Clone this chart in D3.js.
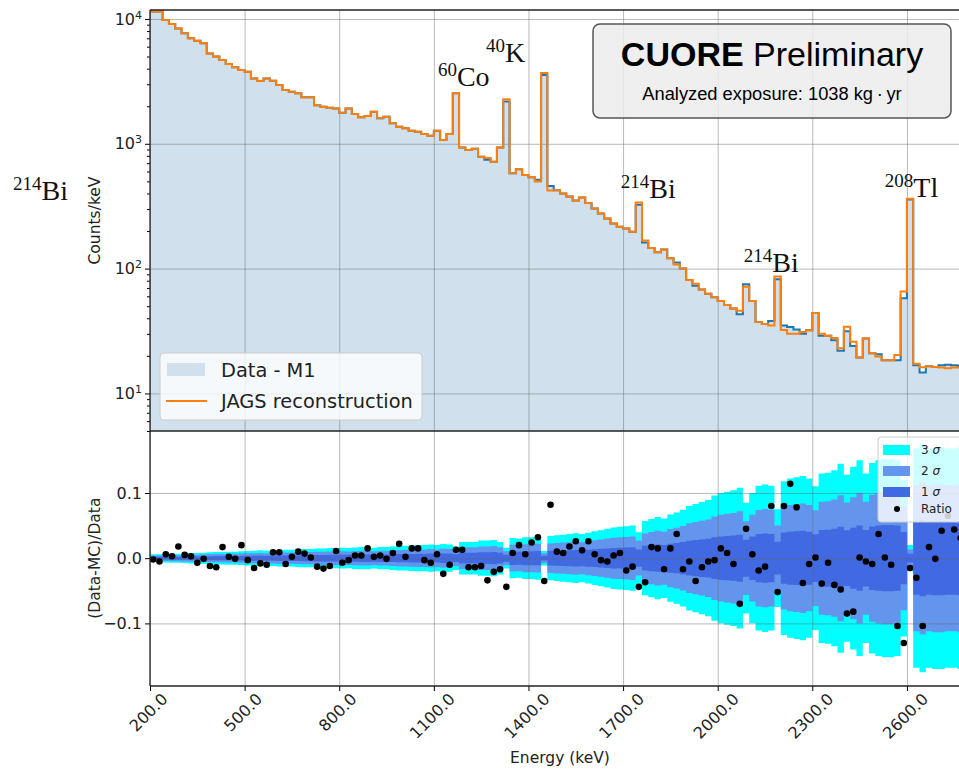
<!DOCTYPE html>
<html>
<head>
<meta charset="utf-8">
<script src="https://cdn.jsdelivr.net/npm/d3@7"></script>
<style>
  body { margin: 0; background: #fff; }
  text { font-family: "DejaVu Sans", sans-serif; }
</style>
</head>
<body>
<div id="chart"></div>
<script>
// 20 keV bins from 200 to 2800 keV
var binWidth = 20;
var binLow = d3.range(200, 2800, binWidth);

// Data - M1, counts/keV
var dataCounts = [
  11500, 11500, 9800, 9100, 8400, 7700, 7000, 6700, 6400, 5300,
  5000, 4700, 4350, 4100, 3900, 3780, 3340, 3180, 3340, 3200,
  2960, 2700, 2610, 2540, 2360, 2360, 2040, 1980, 1940, 1920,
  1770, 1920, 1730, 1630, 1670, 1810, 1600, 1650, 1460, 1370,
  1330, 1270, 1250, 1200, 1160, 1270, 1070, 1200, 2540, 935,
  890, 912, 787, 745, 718, 935, 2180, 580, 624, 561,
  540, 515, 3560, 460, 425, 400, 378, 352, 372, 335,
  303, 277, 252, 230, 216, 210, 197, 325, 162, 146,
  135, 142, 121, 112, 100, 81, 73, 68, 63, 59,
  55, 51, 48, 43, 75, 55, 37.4, 36, 38, 82,
  35, 34, 32.5, 30, 32, 44, 29, 29, 26.7, 22,
  31.5, 24, 19.4, 27.5, 21, 20.6, 18.4, 18.4, 18.4, 58,
  358, 16.8, 14.7, 16.5, 16.3, 16.8, 17, 16.8, 16.6, 16.5
];

// JAGS reconstruction, counts/keV
var mcCounts = [
  11500, 11500, 9800, 9100, 8400, 7700, 7000, 6700, 6400, 5300,
  5000, 4700, 4350, 4100, 3900, 3780, 3340, 3180, 3340, 3200,
  2960, 2700, 2610, 2540, 2360, 2360, 2040, 1980, 1940, 1920,
  1770, 1920, 1730, 1630, 1670, 1810, 1600, 1650, 1460, 1370,
  1330, 1270, 1250, 1200, 1160, 1270, 1070, 1200, 2540, 935,
  890, 912, 787, 770, 718, 935, 2276, 580, 624, 561,
  540, 498, 3685, 422, 425, 400, 378, 352, 372, 335,
  303, 277, 252, 230, 216, 210, 197, 339, 168, 146,
  135, 142, 121, 108, 100, 81, 75.5, 68, 63, 59,
  55, 51, 48, 46, 71.6, 55, 37.4, 36, 35, 86.3,
  32.2, 30.1, 30, 31.1, 32, 44, 30.1, 29, 27.8, 23,
  34.2, 26, 19.4, 27.5, 21, 19.8, 18.4, 18.4, 20.3, 65.5,
  363, 17.3, 16.2, 16.5, 16.3, 16.1, 15.9, 16.1, 16.1, 16.5
];

// (Data-MC)/Data per bin
var ratio = [
  -0.002, -0.005, 0.006, 0.003, 0.018, 0.005, 0.003, -0.007, -0.001, -0.012,
  -0.014, 0.017, 0.002, -0.001, 0.020, -0.003, -0.015, -0.008, -0.010, 0.009,
  0.009, -0.009, 0.002, 0.010, 0.007, 0.001, -0.013, -0.016, -0.012, 0.011,
  -0.007, -0.003, 0.004, 0.004, 0.015, 0.002, 0.004, -0.001, 0.008, 0.022,
  0.002, 0.015, 0.015, -0.003, -0.007, 0.006, -0.024, -0.010, 0.013, 0.013,
  -0.014, -0.014, -0.012, -0.034, -0.021, -0.017, -0.044, 0.008, 0.020, 0.006,
  0.024, 0.032, -0.035, 0.082, 0.010, 0.008, 0.018, 0.026, 0.012, 0.026,
  0.006, -0.003, -0.005, 0.004, 0.008, -0.019, -0.013, -0.044, -0.037, 0.017,
  0.015, -0.017, 0.015, 0.037, -0.017, -0.005, -0.035, -0.014, -0.005, -0.003,
  0.015, 0.008, -0.009, -0.070, 0.045, 0.006, -0.019, -0.013, 0.080, -0.052,
  0.080, 0.114, 0.078, -0.038, -0.009, 0.001, -0.039, -0.007, -0.041, -0.048,
  -0.085, -0.082, 0.001, -0.005, -0.009, 0.037, 0.001, -0.010, -0.104, -0.130,
  -0.015, -0.030, -0.104, 0.017, -0.001, 0.042, 0.065, 0.044, 0.031, 0.020
];

// 1 sigma half-width of the band per bin
var sigma = [
  0.0020, 0.0020, 0.0022, 0.0023, 0.0023, 0.0025, 0.0027, 0.0027, 0.0028, 0.0030,
  0.0032, 0.0032, 0.0033, 0.0033, 0.0035, 0.0037, 0.0038, 0.0040, 0.0038, 0.0040,
  0.0042, 0.0043, 0.0043, 0.0045, 0.0047, 0.0047, 0.0050, 0.0050, 0.0052, 0.0052,
  0.0053, 0.0052, 0.0055, 0.0057, 0.0057, 0.0053, 0.0057, 0.0057, 0.0060, 0.0063,
  0.0063, 0.0065, 0.0067, 0.0067, 0.0070, 0.0067, 0.0073, 0.0070, 0.0060, 0.0083,
  0.0083, 0.0083, 0.0090, 0.0090, 0.0093, 0.0083, 0.0053, 0.0103, 0.0100, 0.0107,
  0.0107, 0.0110, 0.0037, 0.0113, 0.0117, 0.0120, 0.0123, 0.0127, 0.0123, 0.0130,
  0.0137, 0.0143, 0.0150, 0.0157, 0.0160, 0.0163, 0.0167, 0.0133, 0.0190, 0.0200,
  0.0210, 0.0203, 0.0223, 0.0233, 0.0247, 0.0267, 0.0277, 0.0287, 0.0297, 0.0320,
  0.0333, 0.0340, 0.0347, 0.0360, 0.0283, 0.0333, 0.0370, 0.0377, 0.0370, 0.0250,
  0.0393, 0.0407, 0.0413, 0.0420, 0.0407, 0.0367, 0.0433, 0.0437, 0.0450, 0.0483,
  0.0427, 0.0467, 0.0500, 0.0433, 0.0487, 0.0500, 0.0507, 0.0507, 0.0500, 0.0400,
  0.0067, 0.0560, 0.0583, 0.0560, 0.0567, 0.0567, 0.0560, 0.0560, 0.0567, 0.0567
];

var energyTicks = [200, 500, 800, 1100, 1400, 1700, 2000, 2300, 2600];
var countTicks = [10, 100, 1000, 10000];
var ratioTicks = [-0.1, 0, 0.1];

// peak labels: isotope mass, element, anchor in data coordinates
var peakLabels = [
  {mass: "214", el: "Bi", e: -234, c: 354},
  {mass: "60", el: "Co", e: 1113, c: 2904},
  {mass: "40", el: "K", e: 1265, c: 4520},
  {mass: "214", el: "Bi", e: 1693, c: 371},
  {mass: "214", el: "Bi", e: 2083, c: 94.4},
  {mass: "208", el: "Tl", e: 2530, c: 374}
];

var W = 959, H = 770;
var left = 150, right = 970, topY = 10, midY = 431, botY = 686;
var gridColor = "rgba(100,100,100,0.45)";
var tickFont = 16;

var svg = d3.select("#chart").append("svg")
  .attr("width", W)
  .attr("height", H);

var x = d3.scaleLinear().domain([200, 2800]).range([left, right]);
var yTop = d3.scaleLog().domain([5, 11800]).range([midY, topY]);
var yBot = d3.scaleLinear().domain([-0.196, 0.195]).range([botY, midY]);

var steps = binLow.map(function(e, i) { return {e: e, i: i}; })
  .concat([{e: 2800, i: binLow.length - 1}]);

var defs = svg.append("defs");
defs.append("clipPath").attr("id", "clipTop").append("rect")
  .attr("x", left).attr("y", topY).attr("width", right - left).attr("height", midY - topY);
defs.append("clipPath").attr("id", "clipBot").append("rect")
  .attr("x", left).attr("y", midY).attr("width", right - left).attr("height", botY - midY);

// ---------- top panel ----------
var topG = svg.append("g");

topG.append("path")
  .datum(steps)
  .attr("clip-path", "url(#clipTop)")
  .attr("fill", "#d0e1ed")
  .attr("d", d3.area().curve(d3.curveStepAfter)
    .x(function(d) { return x(d.e); })
    .y0(midY)
    .y1(function(d) { return yTop(dataCounts[d.i]); }));

topG.append("g")
  .attr("transform", "translate(0," + midY + ")")
  .call(d3.axisBottom(x).tickValues(energyTicks).tickSize(-(midY - topY)).tickFormat(""))
  .call(function(g) { g.select(".domain").remove(); })
  .selectAll("line").attr("stroke", gridColor);

topG.append("g")
  .attr("transform", "translate(" + left + ",0)")
  .call(d3.axisLeft(yTop).tickValues(countTicks).tickSize(-(right - left)).tickFormat(""))
  .call(function(g) { g.select(".domain").remove(); })
  .selectAll("line").attr("stroke", gridColor);

var stepLine = function(arr) {
  return d3.line().curve(d3.curveStepAfter)
    .x(function(d) { return x(d.e); })
    .y(function(d) { return yTop(arr[d.i]); });
};

topG.append("path")
  .datum(steps)
  .attr("clip-path", "url(#clipTop)")
  .attr("fill", "none")
  .attr("stroke", "#1f77b4")
  .attr("stroke-width", 2)
  .attr("d", stepLine(dataCounts));

topG.append("path")
  .datum(steps)
  .attr("clip-path", "url(#clipTop)")
  .attr("fill", "none")
  .attr("stroke", "#ff7f0e")
  .attr("stroke-width", 2)
  .attr("d", stepLine(mcCounts));

// y axis (log) with minor ticks
var minor = [];
[1, 10, 100, 1000].forEach(function(k) {
  d3.range(2, 10).forEach(function(m) {
    if (m * k >= 5 && m * k <= 11800) minor.push(m * k);
  });
});
topG.append("g")
  .attr("transform", "translate(" + left + ",0)")
  .call(d3.axisLeft(yTop).tickValues(minor).tickSize(3).tickFormat(""))
  .call(function(g) { g.select(".domain").remove(); });

var yTopAxis = topG.append("g")
  .attr("transform", "translate(" + left + ",0)")
  .call(d3.axisLeft(yTop).tickValues(countTicks).tickSize(5).tickFormat(""));
yTopAxis.select(".domain").remove();
yTopAxis.selectAll(".tick text").each(function(d) {
  var t = d3.select(this)
    .attr("font-family", "DejaVu Sans")
    .attr("font-size", tickFont)
    .attr("fill", "#222");
  t.text("10");
  t.append("tspan").attr("dy", "-0.55em").attr("font-size", 11).text(Math.round(Math.log10(d)));
});

topG.append("text")
  .attr("transform", "translate(100," + ((topY + midY) / 2) + ") rotate(-90)")
  .attr("text-anchor", "middle")
  .attr("font-size", 15.5)
  .attr("fill", "#222")
  .text("Counts/keV");

// legend (top)
var lg = topG.append("g");
lg.append("rect")
  .attr("x", 160).attr("y", 353).attr("width", 262).attr("height", 67).attr("rx", 4)
  .attr("fill", "#fff").attr("fill-opacity", 0.8)
  .attr("stroke", "#cccccc");
lg.append("rect")
  .attr("x", 167).attr("y", 363).attr("width", 38).attr("height", 13)
  .attr("fill", "#d0e1ed");
lg.append("line")
  .attr("x1", 166).attr("x2", 207).attr("y1", 401).attr("y2", 401)
  .attr("stroke", "#ff7f0e").attr("stroke-width", 2);
lg.append("text").attr("x", 221).attr("y", 377).attr("font-size", 19.4).attr("fill", "#222").text("Data - M1");
lg.append("text").attr("x", 221).attr("y", 408).attr("font-size", 19.4).attr("fill", "#222").text("JAGS reconstruction");

// peak labels
peakLabels.forEach(function(p) {
  var t = topG.append("text")
    .attr("x", x(p.e))
    .attr("y", yTop(p.c))
    .attr("fill", "#111")
    .style("font-family", "'Liberation Serif', 'Times New Roman', serif");
  t.append("tspan").attr("font-size", 19).attr("dy", -10).text(p.mass);
  t.append("tspan").attr("font-size", 28).attr("dy", 10).text(p.el);
});

// CUORE box
var cb = topG.append("g");
cb.append("rect")
  .attr("x", 593).attr("y", 24).attr("width", 358).attr("height", 94).attr("rx", 7)
  .attr("fill", "#ececec").attr("fill-opacity", 0.85)
  .attr("stroke", "#555").attr("stroke-width", 1.5);
var ct = cb.append("text")
  .attr("x", 772).attr("y", 66)
  .attr("text-anchor", "middle")
  .attr("font-size", 34)
  .attr("fill", "#000")
  .style("font-family", "'Liberation Sans', Arial, sans-serif");
ct.append("tspan").attr("font-weight", "bold").text("CUORE");
ct.append("tspan").text(" Preliminary");
cb.append("text")
  .attr("x", 772).attr("y", 100)
  .attr("text-anchor", "middle")
  .attr("font-size", 18.3)
  .attr("fill", "#000")
  .style("font-family", "'Liberation Sans', Arial, sans-serif")
  .text("Analyzed exposure: 1038 kg\u2009\u00b7\u2009yr");

// ---------- bottom panel ----------
var botG = svg.append("g");

var bandColors = [[3, "#00ffff"], [2, "#6495ed"], [1, "#4169e1"]];
bandColors.forEach(function(b) {
  botG.append("path")
    .datum(steps)
    .attr("clip-path", "url(#clipBot)")
    .attr("fill", b[1])
    .attr("d", d3.area().curve(d3.curveStepAfter)
      .x(function(d) { return x(d.e); })
      .y0(function(d) { return yBot(-b[0] * sigma[d.i]); })
      .y1(function(d) { return yBot(b[0] * sigma[d.i]); }));
});

botG.append("g")
  .attr("transform", "translate(0," + botY + ")")
  .call(d3.axisBottom(x).tickValues(energyTicks).tickSize(-(botY - midY)).tickFormat(""))
  .call(function(g) { g.select(".domain").remove(); })
  .selectAll("line").attr("stroke", gridColor);

botG.append("g")
  .attr("transform", "translate(" + left + ",0)")
  .call(d3.axisLeft(yBot).tickValues(ratioTicks).tickSize(-(right - left)).tickFormat(""))
  .call(function(g) { g.select(".domain").remove(); })
  .selectAll("line").attr("stroke", gridColor);

botG.append("g")
  .attr("clip-path", "url(#clipBot)")
  .selectAll("circle")
  .data(ratio)
  .enter()
  .append("circle")
  .attr("cx", function(d, i) { return x(binLow[i] + binWidth / 2); })
  .attr("cy", function(d) { return yBot(d); })
  .attr("r", 3.3)
  .attr("fill", "#000");

var yBotAxis = botG.append("g")
  .attr("transform", "translate(" + left + ",0)")
  .call(d3.axisLeft(yBot).tickValues(ratioTicks).tickSize(5)
    .tickFormat(function(d) { return d === 0 ? "0.0" : (d < 0 ? "\u2212" : "") + Math.abs(d).toFixed(1); }));
yBotAxis.select(".domain").remove();
yBotAxis.selectAll(".tick text")
  .attr("font-family", "DejaVu Sans").attr("font-size", tickFont).attr("fill", "#222");

var xAxis = botG.append("g")
  .attr("transform", "translate(0," + botY + ")")
  .call(d3.axisBottom(x).tickValues(energyTicks).tickSize(5)
    .tickFormat(function(d) { return d.toFixed(1); }));
xAxis.select(".domain").remove();
xAxis.selectAll(".tick text").each(function() {
  var t = d3.select(this)
    .attr("font-family", "DejaVu Sans").attr("font-size", tickFont).attr("fill", "#222");
  var L = this.getComputedTextLength();
  t.attr("y", null).attr("dy", null)
    .attr("text-anchor", "middle")
    .attr("dominant-baseline", "central")
    .attr("transform", "translate(-2," + (6 + (L + 12) * 0.3536) + ") rotate(-45)");
});

botG.append("text")
  .attr("x", (left + right) / 2).attr("y", 763)
  .attr("text-anchor", "middle")
  .attr("font-size", 15.5)
  .attr("fill", "#222")
  .text("Energy (keV)");

botG.append("text")
  .attr("transform", "translate(100," + yBot(0) + ") rotate(-90)")
  .attr("text-anchor", "middle")
  .attr("font-size", 15.5)
  .attr("fill", "#222")
  .text("(Data-MC)/Data");

// legend (bottom)
var lb = botG.append("g");
lb.append("rect")
  .attr("x", 878).attr("y", 437).attr("width", 88).attr("height", 85).attr("rx", 3)
  .attr("fill", "#fff").attr("fill-opacity", 0.8)
  .attr("stroke", "#cccccc");
var legItems = [["3", "#00ffff", 445], ["2", "#6495ed", 466], ["1", "#4169e1", 487]];
legItems.forEach(function(it) {
  lb.append("rect").attr("x", 883).attr("y", it[2]).attr("width", 27).attr("height", 10).attr("fill", it[1]);
  var t = lb.append("text").attr("x", 921).attr("y", it[2] + 9).attr("font-size", 12).attr("fill", "#222");
  t.append("tspan").text(it[0] + " ");
  t.append("tspan").attr("font-style", "italic").text("\u03c3");
});
lb.append("circle").attr("cx", 897).attr("cy", 509).attr("r", 3).attr("fill", "#000");
lb.append("text").attr("x", 921).attr("y", 513).attr("font-size", 12).attr("fill", "#222").text("Ratio");

// spines
var spine = svg.append("g").attr("stroke", "#222").attr("stroke-width", 1.3);
spine.append("line").attr("x1", left).attr("x2", left).attr("y1", topY).attr("y2", botY);
spine.append("line").attr("x1", left).attr("x2", right).attr("y1", topY).attr("y2", topY);
spine.append("line").attr("x1", left).attr("x2", right).attr("y1", midY).attr("y2", midY);
spine.append("line").attr("x1", left).attr("x2", right).attr("y1", botY).attr("y2", botY);
</script>
</body>
</html>
